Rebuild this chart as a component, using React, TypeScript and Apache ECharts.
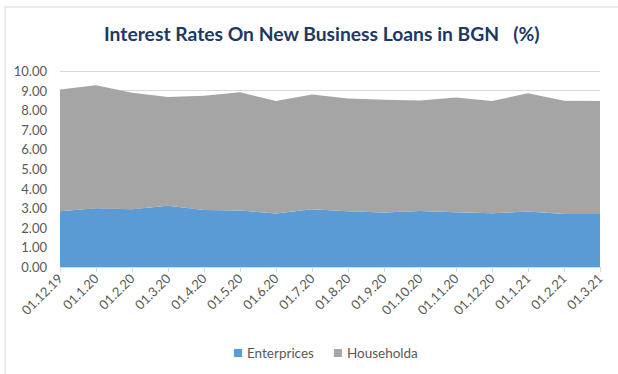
import React, { useEffect, useRef } from "react";
import * as echarts from "echarts";

const categories = ["01.12.19","01.1.20","01.2.20","01.3.20","01.4.20","01.5.20","01.6.20","01.7.20","01.8.20","01.9.20","01.10.20","01.11.20","01.12.20","01.1.21","01.2.21","01.3.21"];
const enterprises = [2.84,3.0,2.95,3.12,2.91,2.88,2.73,2.95,2.84,2.78,2.86,2.79,2.74,2.83,2.71,2.71];
const households = [6.22,6.27,5.94,5.55,5.83,6.03,5.74,5.85,5.76,5.75,5.64,5.86,5.73,6.03,5.77,5.76];
const yTicks = { min: 0, max: 10, interval: 1 };

const FONT = "Lato, 'Open Sans', sans-serif";

export default function App() {
  const ref = useRef<HTMLDivElement>(null);
  useEffect(() => {
    document.body.style.margin = "0";
    const chart = echarts.init(ref.current!, null, { renderer: "svg" });
    chart.setOption({
      animation: false,
      backgroundColor: "#ffffff",
      graphic: [
        { type: "rect", shape: { x: 5, y: 7, width: 700, height: 500 }, style: { fill: "none", stroke: "#d9d9d9", lineWidth: 1 }, silent: true },
      ],
      title: {
        text: "Interest Rates On New Business Loans in BGN   (%)",
        left: 99,
        top: 19,
        textStyle: { fontFamily: FONT, fontSize: 19.3, fontWeight: "bold", color: "#203864" },
      },
      legend: {
        bottom: 9,
        left: 229,
        itemWidth: 8,
        itemHeight: 8,
        itemGap: 20,
        icon: "rect",
        textStyle: { fontFamily: FONT, fontSize: 13.5, color: "#595959" },
        data: ["Enterprices", "Householda"],
      },
      grid: { left: 60, right: 18, top: 71, bottom: 107 },
      xAxis: {
        type: "category",
        data: categories,
        boundaryGap: false,
        axisLine: { lineStyle: { color: "#d9d9d9" } },
        axisTick: { show: true, length: 5, lineStyle: { color: "#d9d9d9" } },
        axisLabel: { rotate: 45, fontFamily: FONT, fontSize: 13, color: "#595959", margin: 9, interval: 0 },
      },
      yAxis: {
        type: "value",
        min: yTicks.min,
        max: yTicks.max,
        interval: yTicks.interval,
        axisLine: { show: false },
        axisTick: { show: false },
        splitLine: { lineStyle: { color: "#d9d9d9" } },
        axisLabel: { formatter: (v: number) => v.toFixed(2), fontFamily: FONT, fontSize: 13, color: "#595959", margin: 13 },
      },
      series: [
        {
          name: "Enterprices",
          type: "line",
          stack: "total",
          data: enterprises,
          showSymbol: false,
          lineStyle: { width: 0 },
          itemStyle: { color: "#5b9bd5" },
          areaStyle: { color: "#5b9bd5", opacity: 1 },
        },
        {
          name: "Householda",
          type: "line",
          stack: "total",
          data: households,
          showSymbol: false,
          lineStyle: { width: 0 },
          itemStyle: { color: "#a5a5a5" },
          areaStyle: { color: "#a5a5a5", opacity: 1 },
        },
      ],
    });
    return () => chart.dispose();
  }, []);
  return <div ref={ref} style={{ position: "fixed", left: 0, top: 0, width: 618, height: 374 }} />;
}
